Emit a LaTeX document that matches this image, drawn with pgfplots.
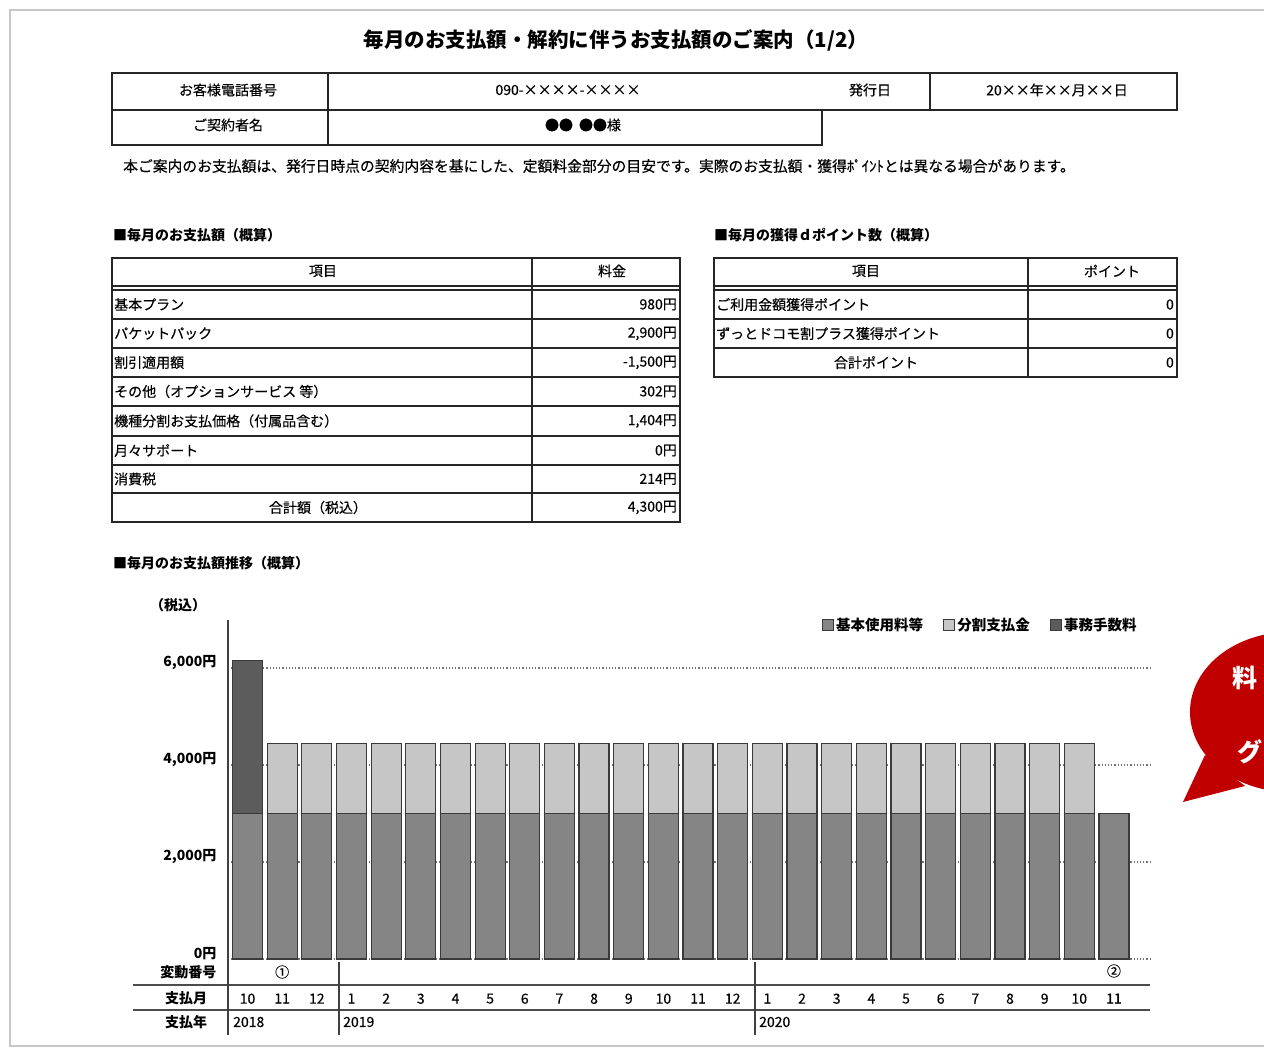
\documentclass[border=0pt]{standalone}
\usepackage{fontspec}
\setmainfont{Noto Sans CJK JP}[UprightFeatures={FakeBold=0.35}]
\usepackage{pgfplots}
\pgfplotsset{compat=1.18}

\definecolor{base}{HTML}{858585}
\definecolor{inst}{HTML}{C6C6C6}
\definecolor{fee}{HTML}{5C5C5C}
\definecolor{edge}{HTML}{3A3A3A}
\definecolor{bubble}{HTML}{C00000}

\newcommand{\fs}[1]{\fontsize{#1pt}{#1pt}\selectfont}

\begin{document}
\begin{tikzpicture}
\path[use as bounding box] (0,0) rectangle (1264pt,1049pt);

% --- monthly payment chart ---
\begin{axis}[
  at={(228pt,90pt)}, anchor=south west,
  scale only axis, width=922pt, height=339.5pt,
  xmin=-0.563, xmax=26.04, ymin=0, ymax=7000,
  axis lines*=left,
  x axis line style={draw=none},
  y axis line style={draw=black!75, line width=1.2pt},
  major tick length=0pt,
  ybar stacked, bar width=30pt,
  clip=false,
  ymajorgrids,
  grid style={black!55, line width=1.2pt, dash pattern=on 1.2pt off 2pt},
  ytick={0,2000,4000,6000},
  yticklabels={{0円},{2,000円},{4,000円},{6,000円}},
  yticklabel style={font=\fs{14}\bfseries, xshift=-8pt, yshift=5pt},
  xtick={0,...,25},
  xticklabels={10,11,12,1,2,3,4,5,6,7,8,9,10,11,12,1,2,3,4,5,6,7,8,9,10,11},
  xticklabel style={font=\fs{14}, yshift=-31pt},
  legend image code/.code={\draw[#1,line width=1.2pt] (0pt,-5.5pt) rectangle (11pt,5.5pt);},
  legend style={at={(0.991,1.018)}, anchor=north east, draw=none, fill=none,
    font=\fs{14.5}\bfseries, legend columns=3,
    /tikz/every even column/.append style={column sep=18pt}},
]
\addlegendimage{fill=base, draw=edge}
\addlegendentry{基本使用料等}
\addlegendimage{fill=inst, draw=edge}
\addlegendentry{分割支払金}
\addlegendimage{fill=fee, draw=edge}
\addlegendentry{事務手数料}

% 基本使用料等
\addplot[fill=base, draw=edge, line width=1.2pt, forget plot] coordinates {
(0,3000) (1,3000) (2,3000) (3,3000) (4,3000) (5,3000) (6,3000) (7,3000) (8,3000)
(9,3000) (10,3000) (11,3000) (12,3000) (13,3000) (14,3000) (15,3000) (16,3000)
(17,3000) (18,3000) (19,3000) (20,3000) (21,3000) (22,3000) (23,3000) (24,3000) (25,3000)};
% 事務手数料
\addplot[fill=fee, draw=edge, line width=1.2pt, forget plot] coordinates {
(0,3160) (1,0) (2,0) (3,0) (4,0) (5,0) (6,0) (7,0) (8,0)
(9,0) (10,0) (11,0) (12,0) (13,0) (14,0) (15,0) (16,0)
(17,0) (18,0) (19,0) (20,0) (21,0) (22,0) (23,0) (24,0) (25,0)};
% 分割支払金
\addplot[fill=inst, draw=edge, line width=1.2pt, forget plot] coordinates {
(0,0) (1,1450) (2,1450) (3,1450) (4,1450) (5,1450) (6,1450) (7,1450) (8,1450)
(9,1450) (10,1450) (11,1450) (12,1450) (13,1450) (14,1450) (15,1450) (16,1450)
(17,1450) (18,1450) (19,1450) (20,1450) (21,1450) (22,1450) (23,1450) (24,1450) (25,0)};

\node[font=\fs{14}] at (axis cs:1,0) [yshift=-13pt] {①};
\node[font=\fs{14}] at (axis cs:25,0) [yshift=-12pt] {②};
\end{axis}

\begin{scope}[yshift=1049pt, x=1pt, y=-1pt]
\tikzset{tl/.style={line width=2pt, black!85}}
% page frame
\draw[black!22, line width=1.5pt] (10,10) rectangle (1290,1046);

% title
\node[font=\fs{20.5}\bfseries] at (616,40) {毎月のお支払額・解約に伴うお支払額のご案内（1/2）};

% header table
\draw[tl] (112,73) rectangle (1177,110);
\draw[tl] (112,110) rectangle (822,145);
\draw[tl] (328,73) -- (328,145);
\draw[tl] (930,73) -- (930,110);
\begin{scope}[every node/.style={font=\fs{14}}]
\node at (228,90) {お客様電話番号};
\node at (568,90) {090-××××-××××};
\node at (870,90) {発行日};
\node at (1057,90) {20××年××月××日};
\node at (228,125) {ご契約者名};
\node at (583,125) {●●\hspace{6pt}●●様};
\end{scope}

\node[font=\fs{14.8}, anchor=west, inner sep=0pt] at (123,166)
  {本ご案内のお支払額は、発行日時点の契約内容を基にした、定額料金部分の目安です。実際のお支払額・獲得ﾎﾟｲﾝﾄとは異なる場合があります。};

% section headings
\begin{scope}[every node/.style={font=\fs{14}\bfseries, anchor=west, inner sep=0pt}]
\node at (113,235) {■毎月のお支払額（概算）};
\node at (714,235) {■毎月の獲得ｄポイント数（概算）};
\node at (113,563) {■毎月のお支払額推移（概算）};
\end{scope}

% left table
\draw[tl] (112,258) rectangle (680,522);
\draw[tl] (532,258) -- (532,522);
\draw[tl] (112,286) -- (680,286);
\draw[tl] (112,290) -- (680,290);
\foreach \yy in {319,348,377,406,436,465,493} \draw[tl] (112,\yy) -- (680,\yy);
\begin{scope}[every node/.style={font=\fs{14}}]
\node at (323,271) {項目};
\node at (612,271) {料金};
\node[anchor=west, inner sep=1pt] at (113,304.5) {基本プラン};
\node[anchor=west, inner sep=1pt] at (113,333.5) {パケットパック};
\node[anchor=west, inner sep=1pt] at (113,362.5) {割引適用額};
\node[anchor=west, inner sep=1pt] at (113,391.5) {その他（オプションサービス 等）};
\node[anchor=west, inner sep=1pt] at (113,421) {機種分割お支払価格（付属品含む）};
\node[anchor=west, inner sep=1pt] at (113,450.5) {月々サポート};
\node[anchor=west, inner sep=1pt] at (113,479) {消費税};
\node at (318,507.5) {合計額（税込）};
\node[anchor=east, inner sep=1pt] at (678,304.5) {980円};
\node[anchor=east, inner sep=1pt] at (678,333.5) {2,900円};
\node[anchor=east, inner sep=1pt] at (678,362.5) {-1,500円};
\node[anchor=east, inner sep=1pt] at (678,391.5) {302円};
\node[anchor=east, inner sep=1pt] at (678,421) {1,404円};
\node[anchor=east, inner sep=1pt] at (678,450.5) {0円};
\node[anchor=east, inner sep=1pt] at (678,479) {214円};
\node[anchor=east, inner sep=1pt] at (678,507.5) {4,300円};
\end{scope}

% right table
\draw[tl] (714,258) rectangle (1177,377);
\draw[tl] (1028,258) -- (1028,377);
\draw[tl] (714,286) -- (1177,286);
\draw[tl] (714,290) -- (1177,290);
\foreach \yy in {319,348} \draw[tl] (714,\yy) -- (1177,\yy);
\begin{scope}[every node/.style={font=\fs{14}}]
\node at (866,271) {項目};
\node at (1112,271) {ポイント};
\node[anchor=west, inner sep=1pt] at (715,304.5) {ご利用金額獲得ポイント};
\node[anchor=west, inner sep=1pt] at (715,333.5) {ずっとドコモ割プラス獲得ポイント};
\node at (876,362.5) {合計ポイント};
\node[anchor=east, inner sep=1pt] at (1175,304.5) {0};
\node[anchor=east, inner sep=1pt] at (1175,333.5) {0};
\node[anchor=east, inner sep=1pt] at (1175,362.5) {0};
\end{scope}

% chart extras
\node[font=\fs{14}\bfseries] at (178,605) {（税込）};
\draw[black!70, line width=1.5pt] (133,985) -- (1150,985);
\draw[black!70, line width=1.5pt] (133,1010) -- (1150,1010);
\draw[black!75, line width=1.2pt] (228,959) -- (228,1035);
\draw[black!75, line width=1.2pt] (339,962) -- (339,1035);
\draw[black!75, line width=1.2pt] (755,962) -- (755,1035);
\begin{scope}[every node/.style={font=\fs{14}\bfseries}]
\node[anchor=east] at (220,972) {変動番号};
\node at (186,998) {支払月};
\node at (186,1022) {支払年};
\end{scope}
\begin{scope}[every node/.style={font=\fs{14}, anchor=west, inner sep=0pt}]
\node at (233,1022) {2018};
\node at (343,1022) {2019};
\node at (759,1022) {2020};
\end{scope}

% speech bubble (runs off the page edge)
\fill[bubble] (1290,712) ellipse [x radius=100pt, y radius=80pt];
\fill[bubble] (1205,755) -- (1183,802) -- (1245,786) -- cycle;
\begin{scope}[every node/.style={font=\fs{25}\bfseries, text=white, anchor=west, inner sep=0pt}]
\node at (1232,678) {料};
\node at (1237,752) {グ};
\end{scope}
\end{scope}
\end{tikzpicture}
\end{document}
